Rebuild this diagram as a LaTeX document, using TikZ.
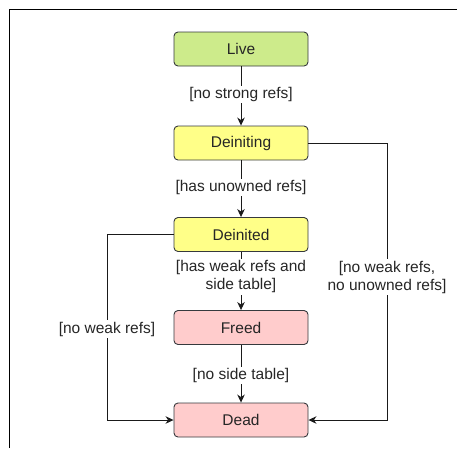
\documentclass[tikz,border=0pt]{standalone}
\usepackage{fontspec}
\setmainfont{Liberation Sans}
\usetikzlibrary{arrows.meta,calc}

\definecolor{stroke}{HTML}{36393D}
\definecolor{wire}{HTML}{1A1A1A}
\definecolor{txt}{HTML}{262626}
\definecolor{livefill}{HTML}{CDEB8B}
\definecolor{midfill}{HTML}{FFFF88}
\definecolor{endfill}{HTML}{FFCCCC}

\tikzset{
  state/.style={draw=stroke, line width=0.9pt, rounded corners=4pt,
    minimum width=134pt, minimum height=34pt, inner sep=0pt,
    font=\fontsize{15.5}{18}\selectfont, text=txt},
  conn/.style={draw=wire, line width=0.9pt,
    -{Stealth[length=8pt,width=7.5pt,inset=2.5pt]}},
  guard/.style={fill=white, inner sep=1.5pt, align=center,
    font=\fontsize{15.5}{18}\selectfont, text=txt}
}

\begin{document}
\begin{tikzpicture}[x=1pt,y=1pt]
  \useasboundingbox (0,0) rectangle (457,-448);

  % frame edges
  \draw[line width=1.6pt, black] (9.5,-448) -- (9.5,-9.5) -- (457,-9.5);

  % states
  \node[state, fill=livefill] (live)      at (241,-49)    {Live};
  \node[state, fill=midfill]  (deiniting) at (241,-143)   {Deiniting};
  \node[state, fill=midfill]  (deinited)  at (241,-234.5) {Deinited};
  \node[state, fill=endfill]  (freed)     at (241,-327.5) {Freed};
  \node[state, fill=endfill]  (dead)      at (241,-420)   {Dead};

  % routing columns for the side transitions
  \coordinate (lx) at (107,0);
  \coordinate (rx) at (387,0);

  % transitions
  \draw[conn] (live) -- node[guard, pos=0.47] {[no strong refs]} (deiniting);
  \draw[conn] (deiniting) -- node[guard, pos=0.48] {[has unowned refs]} (deinited);
  \draw[conn] (deinited) -- node[guard, pos=0.43] {[has weak refs and\\side table]} (freed);
  \draw[conn] (freed) -- node[guard, pos=0.53] {[no side table]} (dead);

  \draw[conn] (deinited.west) -- (deinited.west -| lx)
    -- node[guard, pos=0.51] {[no weak refs]} (dead.west -| lx) -- (dead.west);
  \draw[conn] (deiniting.east) -- (deiniting.east -| rx)
    -- node[guard, pos=0.484] {[no weak refs,\\no unowned refs]} (dead.east -| rx) -- (dead.east);
\end{tikzpicture}
\end{document}
